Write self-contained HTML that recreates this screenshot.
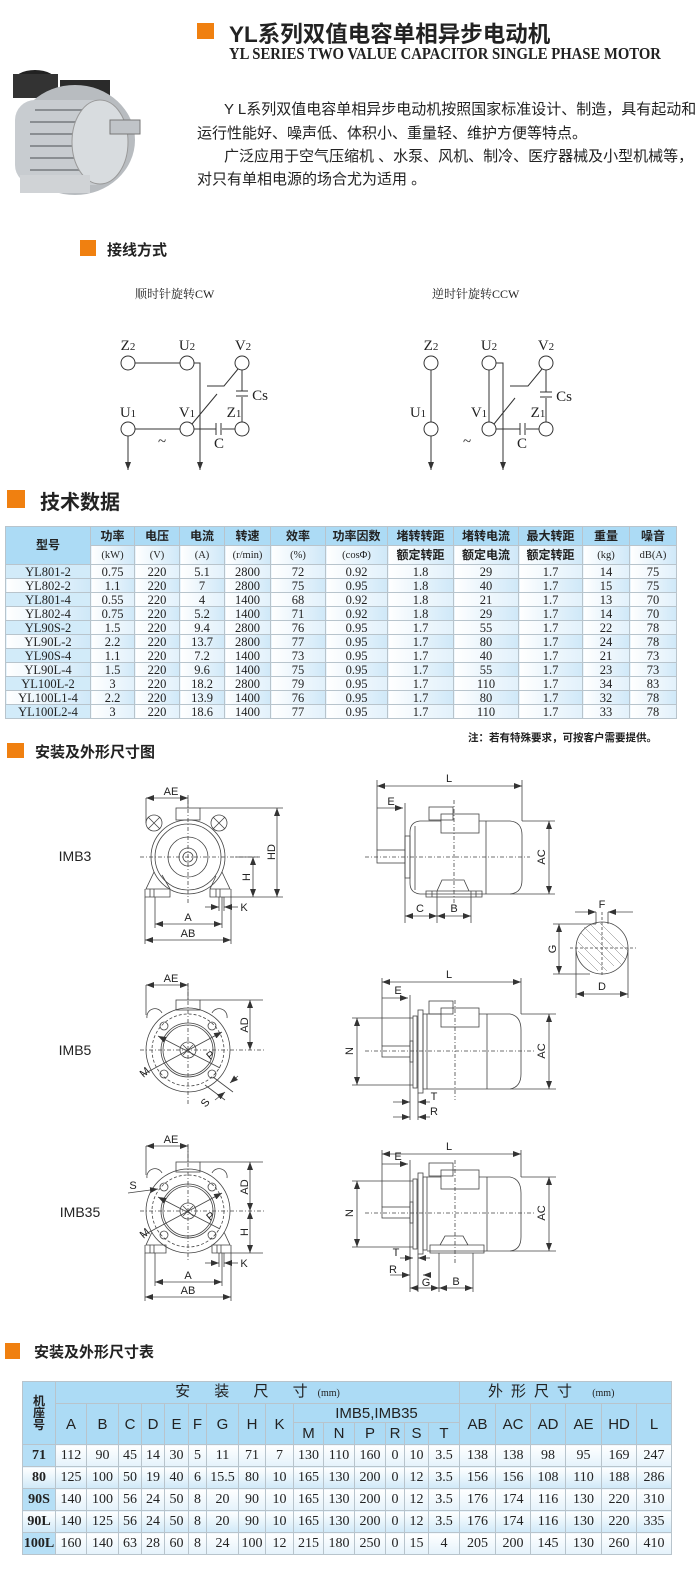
<!DOCTYPE html>
<html><head><meta charset="utf-8">
<style>
*{margin:0;padding:0;box-sizing:border-box}
body{width:700px;height:1575px;background:#fff;position:relative;overflow:hidden;font-family:"Liberation Sans","Noto Sans CJK SC",sans-serif;color:#222}
.a{position:absolute;white-space:nowrap}
.sq{position:absolute;background:#f08010}
.h{font-weight:bold;color:#222}
table{border-collapse:collapse;table-layout:fixed;position:absolute}
td{border:1px solid #b8c4cc;text-align:center;padding:0;overflow:hidden;white-space:nowrap}
#t1 td{font-family:"Liberation Serif","Noto Serif CJK SC",serif;font-size:12.5px;height:14px;line-height:12px;background:linear-gradient(90deg,#fff,#e2f1fb)}
#t1 tr:nth-child(even) td{background:linear-gradient(90deg,#fff,#cfe8f8)}
#t1 td.m{background:#d2ebf9}
#t1 .hd td{background:#acdbf5;font-family:"Liberation Sans","Noto Sans CJK SC",sans-serif;font-weight:bold;font-size:12px;height:19px;line-height:17px}
#t1 .hd td.s{font-family:"Liberation Serif",serif;font-weight:normal;font-size:10.5px}
#t2 td{font-family:"Liberation Serif",serif;font-size:14px;height:22px;line-height:20px;background:linear-gradient(180deg,#fff,#e4f2fb)}
#t2 tr:nth-child(odd).d td{background:linear-gradient(180deg,#fff,#d0e9f8)}
#t2 td.m{background:#b6dff6;font-weight:bold}
#t2 .hd td{background:#acdbf5;font-family:"Liberation Sans","Noto Sans CJK SC",sans-serif;font-size:15px;line-height:17px}
</style></head><body>

<!-- header -->
<svg class="a" style="left:5px;top:60px" width="145" height="140" viewBox="0 0 145 140">
<ellipse cx="30" cy="22" rx="22" ry="12" fill="#222"/><rect x="8" y="14" width="45" height="24" fill="#333"/>
<rect x="55" y="20" width="50" height="30" fill="#2a2a2a"/>
<ellipse cx="70" cy="80" rx="60" ry="55" fill="#b8bcc0"/>
<rect x="10" y="40" width="100" height="85" rx="20" fill="#c8ccd0"/>
<g stroke="#8a8e92" stroke-width="2">
<line x1="30" y1="50" x2="100" y2="50"/><line x1="25" y1="62" x2="105" y2="62"/><line x1="25" y1="74" x2="105" y2="74"/><line x1="25" y1="86" x2="105" y2="86"/><line x1="25" y1="98" x2="105" y2="98"/><line x1="25" y1="110" x2="100" y2="110"/></g>
<ellipse cx="95" cy="82" rx="28" ry="42" fill="#d8dcdf" stroke="#999"/>
<rect x="105" y="60" width="30" height="14" fill="#c0c4c8" stroke="#777"/>
<rect x="15" y="115" width="70" height="18" fill="#d0d3d6"/>
</svg>
<div class="sq" style="left:197px;top:23px;width:17px;height:16px"></div>
<div class="a h" style="left:229px;top:17px;font-size:22.5px">YL系列双值电容单相异步电动机</div>
<div class="a h" style="left:229px;top:44px;font-family:'Liberation Serif',serif;font-size:17px;transform:scaleX(0.865);transform-origin:left">YL SERIES TWO VALUE CAPACITOR SINGLE PHASE MOTOR</div>
<div class="a" style="left:224px;top:98px;font-size:15px">Y L系列双值电容单相异步电动机按照国家标准设计、制造，具有起动和</div>
<div class="a" style="left:197px;top:122px;font-size:15px">运行性能好、噪声低、体积小、重量轻、维护方便等特点。</div>
<div class="a" style="left:224px;top:145px;font-size:15px">广泛应用于空气压缩机 、水泵、风机、制冷、医疗器械及小型机械等，</div>
<div class="a" style="left:197px;top:168px;font-size:15px">对只有单相电源的场合尤为适用 。</div>

<!-- wiring -->
<div class="sq" style="left:80px;top:240px;width:16px;height:16px"></div>
<div class="a h" style="left:107px;top:239px;font-size:15px">接线方式</div>
<div class="a" style="left:135px;top:285px;font-size:12px;font-family:'Liberation Serif','Noto Serif CJK SC',serif">顺时针旋转CW</div>
<div class="a" style="left:432px;top:285px;font-size:12px;font-family:'Liberation Serif','Noto Serif CJK SC',serif">逆时针旋转CCW</div>

<svg class="a" style="left:0;top:0" width="700" height="1575" viewBox="0 0 700 1575">
<defs>
<marker id="ar" markerWidth="8" markerHeight="6" refX="8" refY="3" orient="auto" markerUnits="userSpaceOnUse"><path d="M0,0 L8,3 L0,6z" fill="#333"/></marker>
<marker id="as" markerWidth="8" markerHeight="6" refX="0" refY="3" orient="auto" markerUnits="userSpaceOnUse"><path d="M8,0 L0,3 L8,6z" fill="#333"/></marker>
</defs>
<g font-family="Liberation Serif,serif" font-size="15" fill="#222" text-anchor="middle">
<!-- CW -->
<g stroke="#333" stroke-width="1" fill="#fff">
<circle cx="128" cy="363" r="7"/><circle cx="187" cy="363" r="7"/><circle cx="242" cy="363" r="7"/>
<circle cx="128" cy="429" r="7"/><circle cx="187" cy="429" r="7"/><circle cx="242" cy="429" r="7"/>
<line x1="135" y1="363" x2="180" y2="363"/><line x1="135" y1="429" x2="180" y2="429"/>
<polyline points="194,363 200,363 200,470" fill="none" marker-end="url(#ar)"/>
<line x1="128" y1="436" x2="128" y2="470" marker-end="url(#ar)"/>
<line x1="194" y1="429" x2="216" y2="429"/><line x1="222" y1="429" x2="235" y2="429"/>
<line x1="216" y1="423" x2="216" y2="435"/><line x1="221" y1="423" x2="221" y2="435"/>
<line x1="242" y1="370" x2="242" y2="391"/><line x1="242" y1="397" x2="242" y2="422"/>
<line x1="236" y1="391" x2="248" y2="391"/><line x1="236" y1="396" x2="248" y2="396"/>
<line x1="192" y1="424" x2="217" y2="394"/>
<polyline points="207,386 224,386 238,369" fill="none"/>
</g>
<text x="128" y="350">Z<tspan font-size="11">2</tspan></text><text x="187" y="350">U<tspan font-size="11">2</tspan></text><text x="243" y="350">V<tspan font-size="11">2</tspan></text>
<text x="128" y="417">U<tspan font-size="11">1</tspan></text><text x="187" y="417">V<tspan font-size="11">1</tspan></text><text x="234" y="417">Z<tspan font-size="11">1</tspan></text>
<text x="219" y="448">C</text><text x="260" y="400">Cs</text><text x="162" y="446">~</text>
<!-- CCW -->
<g stroke="#333" stroke-width="1" fill="#fff">
<circle cx="431" cy="363" r="7"/><circle cx="489" cy="363" r="7"/><circle cx="546" cy="363" r="7"/>
<circle cx="431" cy="429" r="7"/><circle cx="489" cy="429" r="7"/><circle cx="546" cy="429" r="7"/>
<line x1="431" y1="370" x2="431" y2="422"/><line x1="431" y1="436" x2="431" y2="470" marker-end="url(#ar)"/>
<line x1="489" y1="370" x2="489" y2="422"/>
<polyline points="496,363 503,363 503,470" fill="none" marker-end="url(#ar)"/>
<line x1="496" y1="429" x2="520" y2="429"/><line x1="526" y1="429" x2="539" y2="429"/>
<line x1="520" y1="423" x2="520" y2="435"/><line x1="525" y1="423" x2="525" y2="435"/>
<line x1="546" y1="370" x2="546" y2="392"/><line x1="546" y1="398" x2="546" y2="422"/>
<line x1="540" y1="392" x2="552" y2="392"/><line x1="540" y1="397" x2="552" y2="397"/>
<line x1="494" y1="424" x2="515" y2="398"/>
<polyline points="510,386 528,386 542,369" fill="none"/>
</g>
<text x="431" y="350">Z<tspan font-size="11">2</tspan></text><text x="489" y="350">U<tspan font-size="11">2</tspan></text><text x="546" y="350">V<tspan font-size="11">2</tspan></text>
<text x="418" y="417">U<tspan font-size="11">1</tspan></text><text x="479" y="417">V<tspan font-size="11">1</tspan></text><text x="538" y="417">Z<tspan font-size="11">1</tspan></text>
<text x="522" y="448">C</text><text x="564" y="401">Cs</text><text x="467" y="446">~</text>
</g>

<!-- drawings -->
<g font-family="Liberation Sans,sans-serif" font-size="11" fill="#222" text-anchor="middle">
<text x="75" y="861" font-size="14" text-anchor="middle">IMB3</text>
<text x="75" y="1055" font-size="14">IMB5</text>
<text x="80" y="1217" font-size="14">IMB35</text>
<g stroke="#444" stroke-width="0.8" fill="none">
<!-- IMB3 front -->
<rect x="176" y="808" width="24" height="12"/>
<circle cx="154" cy="823" r="8"/><path d="M148,817 L160,829 M160,817 L148,829"/>
<circle cx="219" cy="823" r="8"/><path d="M213,817 L225,829 M225,817 L213,829"/>
<circle cx="188" cy="857" r="37"/><circle cx="188" cy="857" r="33"/><circle cx="188" cy="857" r="20"/><circle cx="188" cy="857" r="9"/><circle cx="188" cy="857" r="5"/>
<path d="M154,872 L146,889 L170,889 L170,897 L145,897 L145,889 M170,889 L162,875"/>
<path d="M222,872 L230,889 L210,889 L210,897 L231,897 L231,889 M210,889 L216,876"/>
<path d="M150,889 v8 M154,889 v8 M216,889 v8 M220,889 v8"/>
<path d="M140,857 H260 M188,800 V905" stroke-dasharray="4,2,1,2"/>
<path d="M200,808 H283 M231,897 H283 M235,857 H258 M146,798 V823 M188,795 V808 M155,897 V928 M222,897 V928 M145,897 V944 M231,897 V944 M219,897 V911 M224,897 V911"/>
<line x1="277" y1="808" x2="277" y2="897" marker-start="url(#as)" marker-end="url(#ar)"/>
<line x1="253" y1="857" x2="253" y2="897" marker-start="url(#as)" marker-end="url(#ar)"/>
<line x1="146" y1="798" x2="188" y2="798" marker-start="url(#as)" marker-end="url(#ar)"/>
<line x1="155" y1="924" x2="222" y2="924" marker-start="url(#as)" marker-end="url(#ar)"/>
<line x1="145" y1="940" x2="231" y2="940" marker-start="url(#as)" marker-end="url(#ar)"/>
<line x1="205" y1="907" x2="219" y2="907" marker-end="url(#ar)"/><line x1="238" y1="907" x2="224" y2="907" marker-end="url(#ar)"/>
</g>
<text x="171" y="795">AE</text><text x="188" y="921">A</text><text x="188" y="937">AB</text><text x="244" y="911">K</text>
<text transform="translate(275,852) rotate(-90)">HD</text><text transform="translate(250,877) rotate(-90)">H</text>

<!-- IMB3 side -->
<g stroke="#444" stroke-width="0.8" fill="none">
<rect x="377" y="850" width="28" height="13"/>
<rect x="405" y="836" width="5" height="42"/>
<path d="M410,832 V883 M410,832 Q410,822 420,821 H510 Q522,822 522,835 V880 Q522,893 510,894 H420 Q410,893 410,883"/>
<path d="M415,826 V890 M486,821 V894"/>
<rect x="441" y="814" width="38" height="19" fill="#fff"/><rect x="429" y="807" width="24" height="13"/>
<path d="M426,891 H482 V897 H426 Z M437,891 L442,880 H464 L469,891 M432,891 v6 M437,891 v6 M471,891 v6 M476,891 v6"/>
<path d="M365,857 H530 M454,800 V905" stroke-dasharray="4,2,1,2"/>
<path d="M377,780 V850 M522,780 V821 M405,803 V923 M522,821 H555 M510,894 H555 M437,897 V923 M471,897 V923"/>
<line x1="377" y1="786" x2="522" y2="786" marker-start="url(#as)" marker-end="url(#ar)"/>
<line x1="377" y1="808" x2="403" y2="808" marker-end="url(#ar)"/>
<line x1="549" y1="821" x2="549" y2="894" marker-start="url(#as)" marker-end="url(#ar)"/>
<line x1="405" y1="916" x2="437" y2="916" marker-start="url(#as)" marker-end="url(#ar)"/>
<line x1="437" y1="916" x2="471" y2="916" marker-start="url(#as)" marker-end="url(#ar)"/>
</g>
<text x="449" y="782">L</text><text x="391" y="805">E</text><text x="420" y="912">C</text><text x="454" y="912">B</text>
<text transform="translate(545,857) rotate(-90)">AC</text>

<!-- shaft key -->
<g stroke="#444" stroke-width="0.8" fill="none">
<path d="M596,924 V912 M608,924 V912"/>
<circle cx="602" cy="948" r="26"/>
<path d="M581,933 L614,966 M584,927 L622,965 M590,924 L626,960 M600,923 L628,951 M578,942 L607,971 M578,951 L598,971" stroke="#777" stroke-width="0.5"/>
<path d="M570,948 H636 M602,912 V976" stroke-dasharray="3,2"/>
<path d="M553,924 H596 M553,974 H590 M576,948 V998 M628,948 V998"/>
<line x1="559" y1="924" x2="559" y2="974" marker-start="url(#as)" marker-end="url(#ar)"/>
<line x1="576" y1="994" x2="628" y2="994" marker-start="url(#as)" marker-end="url(#ar)"/>
<line x1="575" y1="912" x2="596" y2="912" marker-end="url(#ar)"/><line x1="633" y1="912" x2="608" y2="912" marker-end="url(#ar)"/>
</g>
<text x="602" y="908">F</text><text x="602" y="990">D</text><text transform="translate(556,949) rotate(-90)">G</text>

<!-- IMB5 front -->
<g stroke="#444" stroke-width="0.8" fill="none">
<rect x="176" y="1000" width="24" height="10"/>
<path d="M147,1018 A8,8 0 0 1 162,1013 M212,1013 A8,8 0 0 1 227,1018"/>
<circle cx="188" cy="1050" r="42"/><circle cx="188" cy="1050" r="36" stroke-dasharray="3,2"/><circle cx="188" cy="1050" r="27"/><circle cx="188" cy="1050" r="25"/>
<circle cx="188" cy="1050" r="8"/><path d="M183,1045 L193,1055 M193,1045 L183,1055"/>
<circle cx="164" cy="1026" r="4"/><circle cx="212" cy="1026" r="4"/><circle cx="164" cy="1074" r="4"/><circle cx="212" cy="1074" r="4"/>
<path d="M140,1050 H265 M188,983 V1105" stroke-dasharray="4,2,1,2"/>
<line x1="142" y1="1075" x2="222" y2="1032" marker-end="url(#ar)"/>
<line x1="158" y1="1036" x2="220" y2="1068" marker-start="url(#as)"/>
<path d="M200,1000 H263 M146,985 V1015 M188,983 V1000 M205,1085 L225,1100 M213,1077 L233,1092"/>
<line x1="250" y1="1000" x2="250" y2="1050" marker-start="url(#as)" marker-end="url(#ar)"/>
<line x1="146" y1="985" x2="188" y2="985" marker-start="url(#as)" marker-end="url(#ar)"/>
<line x1="215" y1="1100" x2="225" y2="1092" marker-end="url(#ar)"/><line x1="238" y1="1076" x2="230" y2="1083" marker-end="url(#ar)"/>
</g>
<text x="171" y="982">AE</text><text transform="translate(147,1075) rotate(-40)">M</text><text transform="translate(213,1058) rotate(-40)">P</text><text transform="translate(208,1105) rotate(-50)">S</text>
<text transform="translate(248,1025) rotate(-90)">AD</text>

<!-- IMB35 front -->
<g stroke="#444" stroke-width="0.8" fill="none">
<rect x="176" y="1162" width="24" height="10"/>
<path d="M147,1178 A8,8 0 0 1 162,1173 M212,1173 A8,8 0 0 1 227,1178"/>
<circle cx="188" cy="1211" r="42"/><circle cx="188" cy="1211" r="36" stroke-dasharray="3,2"/><circle cx="188" cy="1211" r="27"/><circle cx="188" cy="1211" r="25"/>
<circle cx="188" cy="1211" r="8"/><path d="M183,1206 L193,1216 M193,1206 L183,1216"/>
<circle cx="164" cy="1187" r="4"/><circle cx="212" cy="1187" r="4"/><circle cx="164" cy="1235" r="4"/><circle cx="212" cy="1235" r="4"/>
<path d="M140,1211 H265 M188,1145 V1260" stroke-dasharray="4,2,1,2"/>
<line x1="142" y1="1236" x2="222" y2="1193" marker-end="url(#ar)"/>
<line x1="158" y1="1197" x2="220" y2="1229" marker-start="url(#as)"/>
<line x1="128" y1="1193" x2="158" y2="1189" marker-end="url(#ar)"/>
<path d="M152,1232 L146,1245 L166,1245 L166,1253 L145,1253 L145,1245 M224,1232 L230,1245 L212,1245 L212,1253 L231,1253 L231,1245 M150,1245 v8 M154,1245 v8 M217,1245 v8 M221,1245 v8"/>
<path d="M200,1162 H263 M231,1253 H263 M146,1146 V1175 M188,1144 V1162 M155,1253 V1286 M222,1253 V1286 M145,1253 V1301 M231,1253 V1301 M219,1253 V1267 M224,1253 V1267"/>
<line x1="250" y1="1162" x2="250" y2="1211" marker-start="url(#as)" marker-end="url(#ar)"/>
<line x1="250" y1="1211" x2="250" y2="1253" marker-start="url(#as)" marker-end="url(#ar)"/>
<line x1="146" y1="1146" x2="188" y2="1146" marker-start="url(#as)" marker-end="url(#ar)"/>
<line x1="155" y1="1282" x2="222" y2="1282" marker-start="url(#as)" marker-end="url(#ar)"/>
<line x1="145" y1="1297" x2="231" y2="1297" marker-start="url(#as)" marker-end="url(#ar)"/>
<line x1="205" y1="1263" x2="219" y2="1263" marker-end="url(#ar)"/><line x1="238" y1="1263" x2="224" y2="1263" marker-end="url(#ar)"/>
</g>
<text x="171" y="1143">AE</text><text x="133" y="1189">S</text><text transform="translate(147,1236) rotate(-40)">M</text><text transform="translate(213,1219) rotate(-40)">P</text>
<text transform="translate(248,1187) rotate(-90)">AD</text><text transform="translate(248,1232) rotate(-90)">H</text>
<text x="188" y="1279">A</text><text x="188" y="1294">AB</text><text x="244" y="1267">K</text>

<!-- IMB5 side -->
<g stroke="#444" stroke-width="0.8" fill="none">
<rect x="382" y="1046" width="28" height="11"/>
<rect x="410" y="1041" width="3" height="21"/>
<rect x="413" y="1016" width="4" height="72"/><rect x="418" y="1010" width="5" height="83"/><rect x="423" y="1014" width="4" height="75"/>
<path d="M427,1014 H510 Q521,1016 521,1030 V1074 Q521,1087 510,1089 H427 M487,1014 V1089"/>
<rect x="441" y="1008" width="38" height="19" fill="#fff"/><rect x="429" y="1001" width="24" height="13"/>
<path d="M365,1051 H535 M455,1000 V1100" stroke-dasharray="4,2,1,2"/>
<path d="M382,978 V1046 M521,978 V1014 M410,995 V1120 M352,1018 H413 M352,1085 H413 M521,1014 H556 M510,1089 H556 M418,1093 V1120"/>
<line x1="382" y1="982" x2="521" y2="982" marker-start="url(#as)" marker-end="url(#ar)"/>
<line x1="382" y1="998" x2="408" y2="998" marker-end="url(#ar)"/>
<line x1="357" y1="1018" x2="357" y2="1085" marker-start="url(#as)" marker-end="url(#ar)"/>
<line x1="549" y1="1014" x2="549" y2="1089" marker-start="url(#as)" marker-end="url(#ar)"/>
<line x1="393" y1="1102" x2="410" y2="1102" marker-end="url(#ar)"/><line x1="430" y1="1102" x2="418" y2="1102" marker-end="url(#ar)"/>
<line x1="393" y1="1117" x2="410" y2="1117" marker-end="url(#ar)"/><line x1="430" y1="1117" x2="418" y2="1117" marker-end="url(#ar)"/>
</g>
<text x="449" y="978">L</text><text x="398" y="994">E</text><text x="434" y="1100">T</text><text x="434" y="1115">R</text>
<text transform="translate(353,1051) rotate(-90)">N</text><text transform="translate(545,1051) rotate(-90)">AC</text>

<!-- IMB35 side -->
<g stroke="#444" stroke-width="0.8" fill="none">
<rect x="382" y="1207" width="28" height="11"/>
<rect x="410" y="1202" width="3" height="21"/>
<rect x="413" y="1179" width="4" height="70"/><rect x="418" y="1173" width="5" height="81"/><rect x="423" y="1177" width="4" height="73"/>
<path d="M427,1177 H510 Q521,1179 521,1193 V1237 Q521,1250 510,1251 H427 M487,1177 V1251"/>
<rect x="441" y="1170" width="38" height="19" fill="#fff"/><rect x="429" y="1163" width="24" height="13"/>
<path d="M430,1245 H484 V1253 H430 Z M440,1245 L445,1236 H463 L468,1245"/>
<path d="M365,1213 H535 M455,1160 V1265" stroke-dasharray="4,2,1,2"/>
<path d="M382,1150 V1207 M521,1150 V1177 M410,1160 V1292 M352,1181 H413 M352,1247 H413 M521,1177 H556 M510,1251 H556 M418,1254 V1292 M439,1253 V1292 M473,1253 V1292"/>
<line x1="382" y1="1154" x2="521" y2="1154" marker-start="url(#as)" marker-end="url(#ar)"/>
<line x1="382" y1="1164" x2="408" y2="1164" marker-end="url(#ar)"/>
<line x1="357" y1="1181" x2="357" y2="1247" marker-start="url(#as)" marker-end="url(#ar)"/>
<line x1="549" y1="1177" x2="549" y2="1251" marker-start="url(#as)" marker-end="url(#ar)"/>
<line x1="400" y1="1258" x2="413" y2="1258" marker-end="url(#ar)"/><line x1="430" y1="1258" x2="418" y2="1258" marker-end="url(#ar)"/>
<line x1="390" y1="1275" x2="410" y2="1275" marker-end="url(#ar)"/><line x1="430" y1="1275" x2="423" y2="1275" marker-end="url(#ar)"/>
<line x1="410" y1="1288" x2="439" y2="1288" marker-start="url(#as)" marker-end="url(#ar)"/>
<line x1="439" y1="1288" x2="473" y2="1288" marker-start="url(#as)" marker-end="url(#ar)"/>
</g>
<text x="449" y="1150">L</text><text x="398" y="1160">E</text><text x="396" y="1256">T</text><text x="393" y="1273">R</text><text x="426" y="1286">G</text><text x="456" y="1285">B</text>
<text transform="translate(353,1213) rotate(-90)">N</text><text transform="translate(545,1213) rotate(-90)">AC</text>
</g>
</svg>

<!-- tech data -->
<div class="sq" style="left:7px;top:490px;width:18px;height:18px"></div>
<div class="a h" style="left:40px;top:486px;font-size:20px">技术数据</div>
<table id="t1" style="left:5px;top:526px;width:671px">
<colgroup><col style="width:85px"><col style="width:44px"><col style="width:45px"><col style="width:45px"><col style="width:46px"><col style="width:55px"><col style="width:62px"><col style="width:66px"><col style="width:65px"><col style="width:64px"><col style="width:47px"><col style="width:47px"></colgroup>
<tr class="hd"><td rowspan="2">型号</td><td>功率</td><td>电压</td><td>电流</td><td>转速</td><td>效率</td><td>功率因数</td><td>堵转转距</td><td>堵转电流</td><td>最大转距</td><td>重量</td><td>噪音</td></tr>
<tr class="hd"><td class="s">(kW)</td><td class="s">(V)</td><td class="s">(A)</td><td class="s">(r/min)</td><td class="s">(%)</td><td class="s">(cosΦ)</td><td>额定转距</td><td>额定电流</td><td>额定转距</td><td class="s">(kg)</td><td class="s">dB(A)</td></tr>
<tr><td class="m">YL801-2</td><td>0.75</td><td>220</td><td>5.1</td><td>2800</td><td>72</td><td>0.92</td><td>1.8</td><td>29</td><td>1.7</td><td>14</td><td>75</td></tr>
<tr><td class="m">YL802-2</td><td>1.1</td><td>220</td><td>7</td><td>2800</td><td>75</td><td>0.95</td><td>1.8</td><td>40</td><td>1.7</td><td>15</td><td>75</td></tr>
<tr><td class="m">YL801-4</td><td>0.55</td><td>220</td><td>4</td><td>1400</td><td>68</td><td>0.92</td><td>1.8</td><td>21</td><td>1.7</td><td>13</td><td>70</td></tr>
<tr><td class="m">YL802-4</td><td>0.75</td><td>220</td><td>5.2</td><td>1400</td><td>71</td><td>0.92</td><td>1.8</td><td>29</td><td>1.7</td><td>14</td><td>70</td></tr>
<tr><td class="m">YL90S-2</td><td>1.5</td><td>220</td><td>9.4</td><td>2800</td><td>76</td><td>0.95</td><td>1.7</td><td>55</td><td>1.7</td><td>22</td><td>78</td></tr>
<tr><td class="m">YL90L-2</td><td>2.2</td><td>220</td><td>13.7</td><td>2800</td><td>77</td><td>0.95</td><td>1.7</td><td>80</td><td>1.7</td><td>24</td><td>78</td></tr>
<tr><td class="m">YL90S-4</td><td>1.1</td><td>220</td><td>7.2</td><td>1400</td><td>73</td><td>0.95</td><td>1.7</td><td>40</td><td>1.7</td><td>21</td><td>73</td></tr>
<tr><td class="m">YL90L-4</td><td>1.5</td><td>220</td><td>9.6</td><td>1400</td><td>75</td><td>0.95</td><td>1.7</td><td>55</td><td>1.7</td><td>23</td><td>73</td></tr>
<tr><td class="m">YL100L-2</td><td>3</td><td>220</td><td>18.2</td><td>2800</td><td>79</td><td>0.95</td><td>1.7</td><td>110</td><td>1.7</td><td>34</td><td>83</td></tr>
<tr><td class="m">YL100L1-4</td><td>2.2</td><td>220</td><td>13.9</td><td>1400</td><td>76</td><td>0.95</td><td>1.7</td><td>80</td><td>1.7</td><td>32</td><td>78</td></tr>
<tr><td class="m">YL100L2-4</td><td>3</td><td>220</td><td>18.6</td><td>1400</td><td>77</td><td>0.95</td><td>1.7</td><td>110</td><td>1.7</td><td>33</td><td>78</td></tr>
</table>
<div class="a h" style="left:468px;top:730px;font-size:10.5px">注：若有特殊要求，可按客户需要提供。</div>

<div class="sq" style="left:7px;top:743px;width:17px;height:15px"></div>
<div class="a h" style="left:35px;top:741px;font-size:15px">安装及外形尺寸图</div>

<!-- dimension table -->
<div class="sq" style="left:5px;top:1343px;width:15px;height:16px"></div>
<div class="a h" style="left:34px;top:1341px;font-size:15px">安装及外形尺寸表</div>
<table id="t2" style="left:22px;top:1381px;width:649px">
<colgroup><col style="width:33px"><col style="width:31px"><col style="width:32px"><col style="width:23px"><col style="width:23px"><col style="width:24px"><col style="width:18px"><col style="width:32px"><col style="width:27px"><col style="width:28px"><col style="width:30px"><col style="width:31px"><col style="width:31px"><col style="width:19px"><col style="width:24px"><col style="width:31px"><col style="width:36px"><col style="width:35px"><col style="width:35px"><col style="width:36px"><col style="width:35px"><col style="width:35px"></colgroup>
<tr class="hd"><td rowspan="3" class="m" style="font-size:12px;line-height:12px;font-family:'Liberation Sans','Noto Sans CJK SC',sans-serif">机<br>座<br>号</td><td colspan="15" style="height:20px;letter-spacing:10px">安 装 尺 寸<span style="font-size:10px;letter-spacing:0;font-family:'Liberation Serif',serif">(mm)</span></td><td colspan="6" style="text-align:left;padding-left:28px;letter-spacing:8px">外形尺寸 <span style="font-size:10px;letter-spacing:0;font-family:'Liberation Serif',serif">(mm)</span></td></tr>
<tr class="hd"><td rowspan="2">A</td><td rowspan="2">B</td><td rowspan="2">C</td><td rowspan="2">D</td><td rowspan="2">E</td><td rowspan="2">F</td><td rowspan="2">G</td><td rowspan="2">H</td><td rowspan="2">K</td><td colspan="6" style="height:19px">IMB5,IMB35</td><td rowspan="2">AB</td><td rowspan="2">AC</td><td rowspan="2">AD</td><td rowspan="2">AE</td><td rowspan="2">HD</td><td rowspan="2">L</td></tr>
<tr class="hd"><td style="height:22px">M</td><td>N</td><td>P</td><td>R</td><td>S</td><td>T</td></tr>
<tr class="d"><td class="m">71</td><td>112</td><td>90</td><td>45</td><td>14</td><td>30</td><td>5</td><td>11</td><td>71</td><td>7</td><td>130</td><td>110</td><td>160</td><td>0</td><td>10</td><td>3.5</td><td>138</td><td>138</td><td>98</td><td>95</td><td>169</td><td>247</td></tr>
<tr class="d"><td class="m">80</td><td>125</td><td>100</td><td>50</td><td>19</td><td>40</td><td>6</td><td>15.5</td><td>80</td><td>10</td><td>165</td><td>130</td><td>200</td><td>0</td><td>12</td><td>3.5</td><td>156</td><td>156</td><td>108</td><td>110</td><td>188</td><td>286</td></tr>
<tr class="d"><td class="m">90S</td><td>140</td><td>100</td><td>56</td><td>24</td><td>50</td><td>8</td><td>20</td><td>90</td><td>10</td><td>165</td><td>130</td><td>200</td><td>0</td><td>12</td><td>3.5</td><td>176</td><td>174</td><td>116</td><td>130</td><td>220</td><td>310</td></tr>
<tr class="d"><td class="m">90L</td><td>140</td><td>125</td><td>56</td><td>24</td><td>50</td><td>8</td><td>20</td><td>90</td><td>10</td><td>165</td><td>130</td><td>200</td><td>0</td><td>12</td><td>3.5</td><td>176</td><td>174</td><td>116</td><td>130</td><td>220</td><td>335</td></tr>
<tr class="d"><td class="m">100L</td><td>160</td><td>140</td><td>63</td><td>28</td><td>60</td><td>8</td><td>24</td><td>100</td><td>12</td><td>215</td><td>180</td><td>250</td><td>0</td><td>15</td><td>4</td><td>205</td><td>200</td><td>145</td><td>130</td><td>260</td><td>410</td></tr>
</table>
</body></html>
